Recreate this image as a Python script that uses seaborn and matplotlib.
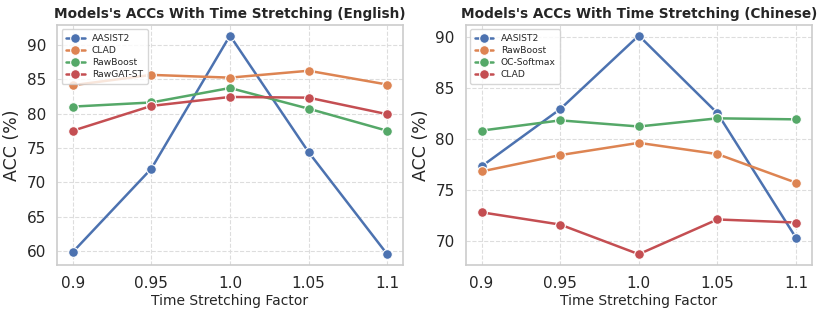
import pandas as pd
import numpy as np
import matplotlib
matplotlib.use("Agg")
import matplotlib.pyplot as plt
import seaborn as sns

# Time stretching factors
factors = [0.9, 0.95, 1.0, 1.05, 1.1]
factor_labels = ["0.9", "0.95", "1.0", "1.05", "1.1"]

# English results
en_models = ["AASIST2", "CLAD", "RawBoost", "RawGAT-ST"]
en_aasist2 = [59.9, 72.0, 91.3, 74.4, 59.6]
en_clad = [84.1, 85.6, 85.2, 86.2, 84.2]
en_rawboost = [81.0, 81.6, 83.7, 80.7, 77.5]
en_rawgat = [77.5, 81.1, 82.4, 82.3, 79.9]

# Chinese results
zh_models = ["AASIST2", "RawBoost", "OC-Softmax", "CLAD"]
zh_aasist2 = [77.3, 82.9, 90.1, 82.5, 70.3]
zh_rawboost = [76.8, 78.4, 79.6, 78.5, 75.7]
zh_ocsoftmax = [80.8, 81.8, 81.2, 82.0, 81.9]
zh_clad = [72.8, 71.6, 68.7, 72.1, 71.8]


def to_long(models, series):
    rows = []
    for name, vals in zip(models, series):
        for f, v in zip(factors, vals):
            rows.append({"Factor": f, "ACC": v, "Model": name})
    return pd.DataFrame(rows)


df_en = to_long(en_models, [en_aasist2, en_clad, en_rawboost, en_rawgat])
df_zh = to_long(zh_models, [zh_aasist2, zh_rawboost, zh_ocsoftmax, zh_clad])

sns.set_theme(style="whitegrid")
plt.rcParams["font.family"] = ["DejaVu Sans"]

fig, axes = plt.subplots(1, 2, figsize=(8.3, 3.16), dpi=100)
palette = sns.color_palette("deep", 4)

panels = [(axes[0], df_en, en_models, "Models's ACCs With Time Stretching (English)"),
          (axes[1], df_zh, zh_models, "Models's ACCs With Time Stretching (Chinese)")]

for ax, d, models, title in panels:
    sns.lineplot(data=d, x="Factor", y="ACC", hue="Model", hue_order=models,
                 palette=palette, marker="o", markersize=7, linewidth=1.8,
                 markeredgecolor="white", markeredgewidth=0.8, ax=ax)
    ax.set_title(title, fontsize=9.8, fontweight="bold", pad=5)
    ax.set_xlabel("Time Stretching Factor", fontsize=10, labelpad=2)
    ax.set_ylabel("ACC (%)", fontsize=12.5)
    ax.set_xticks(factors)
    ax.set_xticklabels(factor_labels)
    ax.tick_params(axis="both", labelsize=11, pad=2)
    ax.grid(True, linestyle="--", linewidth=0.8, color="#dddddd")
    for s in ax.spines.values():
        s.set_edgecolor("#cccccc")
        s.set_linewidth(1.2)
    leg = ax.legend(loc="upper left", fontsize=6.6, title=None, frameon=True,
                    handlelength=2.0, borderpad=0.5, labelspacing=0.35)
    leg.get_frame().set_edgecolor("#cccccc")

plt.subplots_adjust(left=0.0687, right=0.978, bottom=0.161, top=0.922, wspace=0.182)
fig.savefig("out.png", dpi=100)
